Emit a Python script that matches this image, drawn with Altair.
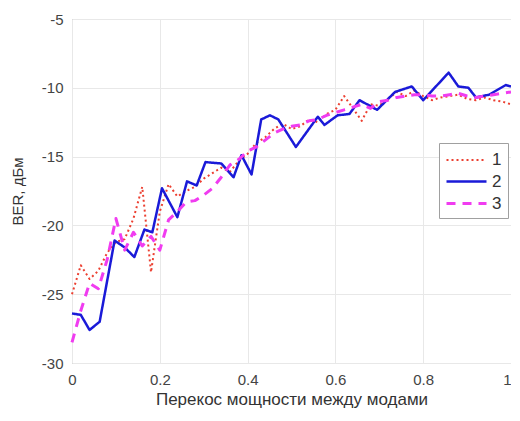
import altair as alt
import pandas as pd

# x positions (fraction of power skew)
x_grid = [0.00, 0.02, 0.04, 0.06, 0.08, 0.10, 0.12, 0.14, 0.16, 0.18,
          0.20, 0.22, 0.24, 0.26, 0.28, 0.30, 0.32, 0.34, 0.36, 0.38,
          0.40, 0.42, 0.44, 0.46, 0.48, 0.50, 0.52, 0.54, 0.56, 0.58,
          0.60, 0.62, 0.64, 0.66, 0.68, 0.70, 0.72, 0.74, 0.76, 0.78,
          0.80, 0.82, 0.84, 0.86, 0.88, 0.90, 0.92, 0.94, 0.96, 0.98, 1.00]

series1 = [-25.0, -22.9, -23.9, -23.3, -22.0, -21.2, -21.0, -19.5, -17.2, -23.4,
           -19.0, -17.0, -17.9, -17.5, -17.2, -16.6, -16.2, -15.8, -16.1, -15.3,
           -14.8, -14.0, -13.6, -13.0, -12.6, -13.0, -12.8, -12.3, -12.5, -11.9,
           -11.6, -10.6, -11.5, -12.4, -11.2, -11.3, -10.8, -10.3, -10.6, -10.2,
           -10.6, -10.9, -10.7, -10.6, -10.5, -10.8, -10.9, -10.7, -10.9, -11.0, -11.2]

series3 = [-28.5, -26.2, -24.2, -24.6, -22.5, -19.5, -21.8, -20.5, -21.5, -20.8,
           -21.8, -19.6, -19.0, -18.3, -18.2, -17.8, -17.3, -16.5, -15.6, -15.2,
           -14.6, -14.3, -13.8, -13.3, -13.0, -12.8, -12.7, -12.4, -12.3, -12.0,
           -11.8, -11.6, -11.4, -11.2, -11.5, -11.0, -10.9, -10.7, -10.6, -10.5,
           -10.5, -10.6, -10.6, -10.5, -10.4, -10.6, -10.7, -10.6, -10.5, -10.4, -10.3]

x2 = [0.00, 0.02, 0.04, 0.063, 0.097, 0.12, 0.142, 0.165, 0.183, 0.205,
      0.24, 0.262, 0.284, 0.304, 0.34, 0.368, 0.386, 0.409, 0.431, 0.451,
      0.47, 0.51, 0.56, 0.575, 0.605, 0.632, 0.655, 0.695, 0.736, 0.774,
      0.80, 0.858, 0.88, 0.903, 0.92, 0.95, 0.988, 1.00]
series2 = [-26.4, -26.5, -27.6, -27.0, -21.1, -21.6, -22.3, -20.3, -20.5, -17.3,
           -19.4, -16.8, -17.1, -15.4, -15.5, -16.5, -14.9, -16.3, -12.3, -12.0,
           -12.3, -14.3, -12.1, -12.7, -12.0, -11.9, -10.9, -11.6, -10.3, -9.9,
           -10.9, -8.9, -9.9, -10.0, -10.7, -10.5, -9.8, -9.9]

names = ["1", "2", "3"]
colors = ["#ec3f30", "#1a1ad8", "#f03cf0"]
dashes = [[2, 3], [1, 0], [9, 7]]
widths = [2.0, 3.0, 2.5]

rows = []
for x, y in zip(x_grid, series1):
    rows.append({"x": x, "y": y, "s": "1"})
for x, y in zip(x2, series2):
    rows.append({"x": x, "y": y, "s": "2"})
for x, y in zip(x_grid, series3):
    rows.append({"x": x, "y": y, "s": "3"})
df = pd.DataFrame(rows)

font = "Liberation Sans"
W = 439

chart = alt.Chart(df).mark_line(strokeJoin="round").encode(
    x=alt.X("x:Q",
            scale=alt.Scale(domain=[0, 1], nice=False),
            axis=alt.Axis(values=[0, 0.2, 0.4, 0.6, 0.8, 1], format="~g",
                          title="Перекос мощности между модами",
                          titleX=W / 2, titleY=36, titleBaseline="middle",
                          titleFontSize=17,
                          labelAlign={"condition": {"test": "datum.value == 1", "value": "right"},
                                      "value": "center"},
                          labelPadding=9)),
    y=alt.Y("y:Q",
            scale=alt.Scale(domain=[-30, -5], nice=False),
            axis=alt.Axis(values=[-30, -25, -20, -15, -10, -5],
                          labelExpr="'' + datum.value",
                          title="BER, дБм",
                          titleX=-55, titleY=172, titleAngle=-90,
                          titleAlign="center", titleBaseline="middle",
                          labelPadding=9)),
    color=alt.Color("s:N", scale=alt.Scale(domain=names, range=colors),
                    legend=alt.Legend(title=None)),
    strokeDash=alt.StrokeDash("s:N", scale=alt.Scale(domain=names, range=dashes),
                              legend=alt.Legend(title=None)),
    strokeWidth=alt.StrokeWidth("s:N", scale=alt.Scale(domain=names, range=widths),
                                legend=None),
    order=alt.Order("x:Q"),
).properties(
    width=W, height=344,
    autosize=alt.AutoSizeParams(type="none"),
    padding={"left": 64, "top": 11, "right": 0, "bottom": 46},
).configure_view(
    stroke="#a0a0a0", strokeWidth=1
).configure_axis(
    grid=True, gridColor="#e8e8e8", gridWidth=1,
    domain=False, ticks=False,
    labelFont=font, labelFontSize=15, labelColor="#444444",
    titleFont=font, titleFontSize=15, titleColor="#333333", titleFontWeight="normal",
).configure_legend(
    orient="none", legendX=367, legendY=124,
    strokeColor="#a0a0a0", fillColor="white", padding=6,
    labelFont=font, labelFontSize=17, labelColor="#333333",
    symbolType="M-1,0L3,0", symbolSize=400, symbolStrokeWidth=2.5,
    rowPadding=2, labelOffset=24,
)

chart.save("out.html", embed_options={"renderer": "svg", "actions": False})
